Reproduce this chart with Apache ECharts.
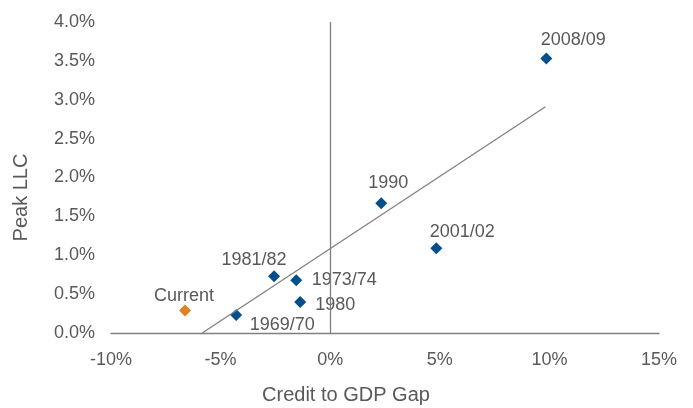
<!DOCTYPE html>
<html>
<head>
<meta charset="utf-8">
<script src="https://cdn.jsdelivr.net/npm/echarts@6/dist/echarts.min.js"></script>
<style>
  html, body { margin: 0; padding: 0; background: #fff; }
  #chart { width: 693px; height: 408px; }
</style>
</head>
<body>
<div id="chart"></div>
<script>
// episodes: credit-to-GDP gap (%) vs peak LLC (%)
const episodes = ['2008/09', '1990', '2001/02', '1981/82', '1973/74', '1980', '1969/70']
const gapValues = [9.86, 2.33, 4.84, -2.56, -1.55, -1.37, -4.29]
const llcValues = [3.53, 1.67, 1.09, 0.73, 0.68, 0.40, 0.23]

const currentName = ['Current']
const currentGap = [-6.62]
const currentLlc = [0.29]

// trend line ends
const trendX = [-5.84, 9.82]
const trendY = [0, 2.91]

const xTicks = [-10, -5, 0, 5, 10, 15]
const yTicks = [0, 0.5, 1, 1.5, 2, 2.5, 3, 3.5, 4]

// label placement (text centre relative to point centre)
const labelShift = {
  '2008/09': [27, -19],
  '1990': [7, -20],
  '2001/02': [26, -16],
  '1981/82': [-20, -16],
  '1973/74': [48, 0],
  '1980': [35, 3],
  '1969/70': [46, 10],
  'Current': [-1, -14]
}

const textColor = '#595959'
const axisColor = '#808080'

const chart = echarts.init(document.getElementById('chart'))

const makePoints = (names, xs, ys) => names.map((n, i) => ({
  name: n,
  value: [xs[i], ys[i]],
  label: { offset: labelShift[n] }
}))

const labelStyle = {
  show: true,
  position: 'inside',
  formatter: p => p.name,
  color: textColor,
  fontSize: 18,
  fontFamily: 'Liberation Sans'
}

const option = {
  animation: false,
  grid: { left: 111, right: 34, top: 22, bottom: 75, outerBoundsMode: 'none' },
  xAxis: {
    type: 'value',
    min: xTicks[0],
    max: xTicks[xTicks.length - 1],
    interval: 5,
    name: 'Credit to GDP Gap',
    nameLocation: 'middle',
    nameGap: 52,
    nameTextStyle: { color: textColor, fontSize: 20, fontFamily: 'Liberation Sans', padding: [0, 78, 0, 0] },
    axisLine: { onZero: false, lineStyle: { color: axisColor, width: 1.3 } },
    axisTick: { show: false },
    splitLine: { show: false },
    axisLabel: { color: textColor, fontSize: 18, fontFamily: 'Liberation Sans', margin: 18, formatter: v => v + '%' }
  },
  yAxis: {
    type: 'value',
    min: yTicks[0],
    max: yTicks[yTicks.length - 1],
    interval: 0.5,
    name: 'Peak LLC',
    nameLocation: 'middle',
    nameGap: 80,
    nameTextStyle: { color: textColor, fontSize: 20, fontFamily: 'Liberation Sans', padding: [0, 40, 0, 0] },
    axisLine: { show: false },
    axisTick: { show: false },
    splitLine: { show: false },
    axisLabel: { color: textColor, fontSize: 18, fontFamily: 'Liberation Sans', margin: 16, formatter: v => v.toFixed(1) + '%' }
  },
  series: [
    {
      type: 'line',
      data: trendX.map((x, i) => [x, trendY[i]]),
      symbol: 'none',
      lineStyle: { color: axisColor, width: 1.3 },
      silent: true,
      markLine: {
        silent: true,
        symbol: 'none',
        label: { show: false },
        lineStyle: { color: axisColor, width: 1.3, type: 'solid' },
        data: [{ xAxis: 0 }]
      }
    },
    {
      type: 'scatter',
      symbol: 'diamond',
      symbolSize: 12,
      itemStyle: { color: '#044E8C', opacity: 1 },
      label: labelStyle,
      data: makePoints(episodes, gapValues, llcValues)
    },
    {
      type: 'scatter',
      symbol: 'diamond',
      symbolSize: 12,
      itemStyle: { color: '#E67E22', opacity: 1 },
      label: labelStyle,
      data: makePoints(currentName, currentGap, currentLlc)
    }
  ]
}

chart.setOption(option)
</script>
</body>
</html>
